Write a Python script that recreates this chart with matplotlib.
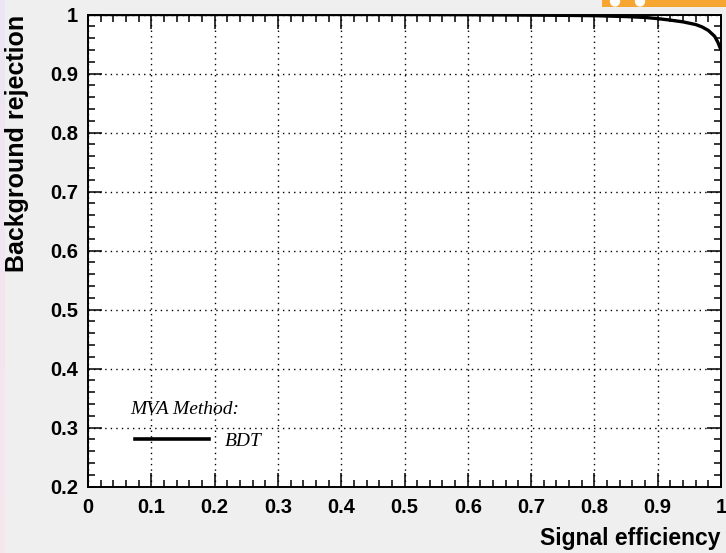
import numpy as np
import matplotlib
matplotlib.use("Agg")
import matplotlib.pyplot as plt
from matplotlib.patches import Rectangle, Ellipse
from matplotlib.ticker import MultipleLocator

# ROC curve of the BDT method
sig_eff = [0.0, 0.1, 0.2, 0.3, 0.4, 0.5, 0.6, 0.7, 0.75, 0.8, 0.85, 0.88,
           0.9, 0.92, 0.94, 0.96, 0.97, 0.98, 0.99, 0.995, 1.0]
bkg_rej = [1.0, 1.0, 1.0, 1.0, 1.0, 0.9999, 0.9996, 0.999, 0.9986, 0.998, 0.9965, 0.995,
           0.993, 0.9905, 0.9875, 0.983, 0.979, 0.973, 0.963, 0.953, 0.94]
method_name = "BDT"
x_ticks = np.round(np.arange(0, 1.01, 0.1), 1)
y_ticks = np.round(np.arange(0.2, 1.01, 0.1), 1)

W, H = 726, 553
fig = plt.figure(figsize=(W / 100, H / 100), dpi=100)
fig.patch.set_facecolor("#efefef")
plt.rcParams["font.family"] = ["Liberation Sans", "DejaVu Sans"]

# thin gradient strip on the left edge
strip = fig.add_axes([0, 0, 5 / W, 1])
grad = np.linspace(0, 1, 100)[:, None]
c_top = np.array([0.93, 0.90, 0.96])
c_bot = np.array([0.97, 0.90, 0.93])
img = c_top[None, None, :] * (1 - grad[:, :, None]) + c_bot[None, None, :] * grad[:, :, None]
strip.imshow(img, aspect="auto")
strip.axis("off")

# orange logo stub at the top right
logo = fig.add_axes([602 / W, 1 - 7 / H, 124 / W, 7 / H])
logo.set_xlim(0, 124)
logo.set_ylim(0, 7)
logo.add_patch(Rectangle((0, 0), 124, 7, color="#f7a531"))
logo.add_patch(Ellipse((13, 6), 9, 10, color="white"))
logo.add_patch(Ellipse((38, 6), 9, 10, color="white"))
logo.axis("off")

left, right, bottom, top = 88, 721, 486.5, 14.5
ax = fig.add_axes([left / W, 1 - bottom / H, (right - left) / W, (bottom - top) / H])
ax.set_facecolor("white")
ax.plot(sig_eff, bkg_rej, color="black", lw=2.4, solid_capstyle="butt")
ax.set_xlim(0, 1)
ax.set_ylim(0.2, 1)

ax.set_xticks(x_ticks)
ax.set_yticks(y_ticks)
ax.set_xticklabels(["0" if v == 0 else ("1" if v == 1 else f"{v:g}") for v in x_ticks])
ax.set_yticklabels(["1" if v == 1 else f"{v:g}" for v in y_ticks])
ax.xaxis.set_minor_locator(MultipleLocator(0.02))
ax.yaxis.set_minor_locator(MultipleLocator(0.02))
ax.tick_params(which="both", direction="in", top=True, right=True, color="black", width=1.1)
ax.tick_params(which="major", length=10)
ax.tick_params(which="minor", length=5)
ax.tick_params(axis="x", which="major", pad=8, labelsize=14.5)
ax.tick_params(axis="y", which="major", pad=7, labelsize=14.5)
for lab in ax.get_xticklabels() + ax.get_yticklabels():
    lab.set_fontweight("bold")
for s in ax.spines.values():
    s.set_linewidth(1.4)
ax.grid(True, which="major", color="black", linestyle=(0, (1, 3)), linewidth=1.0)

fig.text(right / W, 1 - 538 / H, "Signal efficiency", ha="right", va="center",
         fontsize=16.5, fontweight="bold")
fig.text(17 / W, 1 - top / H, "Background rejection", ha="center", va="top",
         rotation=90, fontsize=18, fontweight="bold")

# legend
fig.text(130 / W, 1 - 409 / H, "MVA Method:", ha="left", va="center",
         fontsize=14, style="italic", family="Liberation Serif")
fig.add_artist(plt.Line2D([135 / W, 209 / W], [1 - 439 / H, 1 - 439 / H],
                          color="black", lw=2.6, transform=fig.transFigure))
fig.text(225 / W, 1 - 441 / H, method_name, ha="left", va="center",
         fontsize=14, style="italic", family="Liberation Serif")

fig.savefig("out.png", dpi=100, facecolor=fig.get_facecolor())
